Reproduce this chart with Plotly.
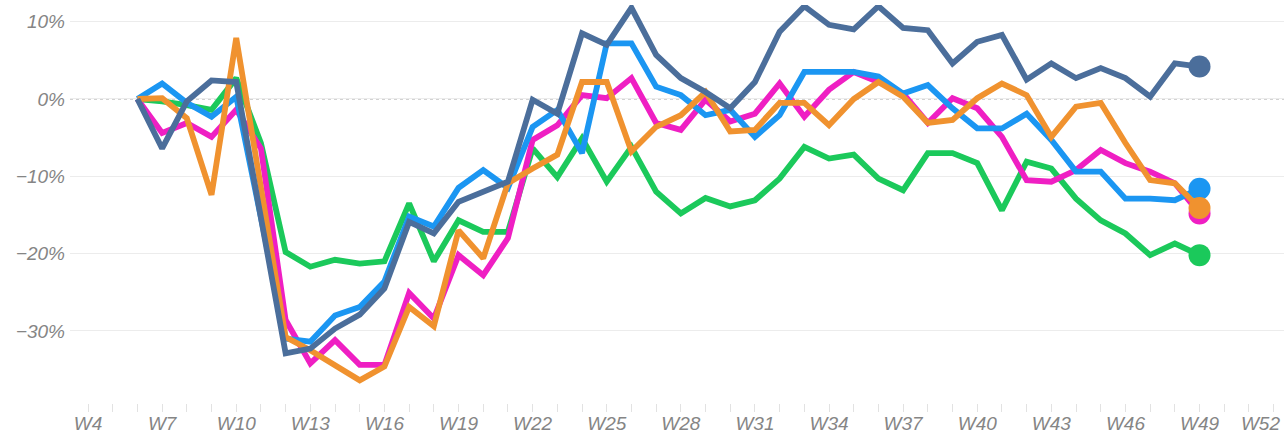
import plotly.graph_objects as go

weeks = list(range(6, 50))

slate = [0, -6.4, -0.3, 2.4, 2.2, -15.3, -32.9, -32.3, -29.7, -27.9, -24.5, -15.9, -17.4, -13.3,
         -12.0, -10.7, -0.1, -1.9, 8.5, 7.0, 11.8, 5.7, 2.7, 0.9, -1.2, 2.2, 8.7, 12.0, 9.6, 9.0,
         12.0, 9.2, 8.9, 4.6, 7.4, 8.3, 2.5, 4.6, 2.7, 4.0, 2.7, 0.3, 4.6, 4.2]
blue = [0, 2.0, -0.5, -2.3, 0.3, -15.0, -31.0, -31.4, -28.0, -26.9, -23.6, -15.2, -16.5, -11.5,
        -9.2, -11.5, -3.6, -1.4, -7.0, 7.2, 7.2, 1.6, 0.5, -2.1, -1.4, -4.9, -2.1, 3.5, 3.5, 3.5,
        2.9, 0.7, 1.8, -1.2, -3.8, -3.8, -1.9, -5.3, -9.4, -9.4, -12.9, -12.9, -13.1, -11.6]
magenta = [0, -4.4, -3.1, -4.9, -1.4, -6.4, -28.6, -34.2, -31.2, -34.4, -34.4, -25.1, -28.4, -20.2,
           -22.8, -18.0, -5.3, -3.4, 0.5, 0.1, 2.7, -3.1, -4.0, -0.1, -2.9, -1.9, 2.0, -2.3, 1.2, 3.5,
           2.2, 0.7, -3.1, 0.1, -1.2, -4.9, -10.5, -10.7, -9.2, -6.6, -8.3, -9.4, -10.9, -14.8]
orange = [0, 0.1, -2.5, -12.4, 7.9, -11.5, -30.8, -32.5, -34.4, -36.4, -34.6, -26.9, -29.4, -17.0,
          -20.6, -10.9, -9.0, -7.2, 2.2, 2.2, -6.8, -3.6, -2.1, 0.9, -4.2, -4.0, -0.5, -0.5, -3.4, 0.0,
          2.2, 0.3, -3.1, -2.7, 0.1, 2.0, 0.5, -4.9, -1.0, -0.5, -5.7, -10.5, -10.9, -14.1]
green = [0, -0.3, -0.8, -1.4, 2.7, -5.7, -19.8, -21.7, -20.8, -21.3, -21.0, -13.5, -21.0, -15.7,
         -17.2, -17.2, -6.4, -10.1, -5.1, -10.7, -6.2, -12.0, -14.8, -12.8, -13.9, -13.1, -10.3, -6.2, -7.7, -7.2,
         -10.3, -11.8, -7.0, -7.0, -8.3, -14.4, -8.1, -9.0, -12.9, -15.7, -17.4, -20.2, -18.7, -20.2]

x_tick_weeks = list(range(4, 53, 3))
x_tick_labels = [f"W{w}" for w in x_tick_weeks]
x_tick_labels[-1] = "W52\u00a0\u00a0\u00a0\u00a0\u00a0"
y_tick_vals = [10, 0, -10, -20, -30]
y_tick_labels = ["10%", "0%", "\u221210%", "\u221220%", "\u221230%"]

series = [
    ("green", green, "#1bc95b"),
    ("magenta", magenta, "#ef1fc3"),
    ("blue", blue, "#1b96f2"),
    ("orange", orange, "#f0922f"),
    ("slate", slate, "#4b6e9b"),
]

fig = go.Figure()
for name, vals, col in series:
    fig.add_trace(go.Scatter(x=weeks, y=vals, mode="lines", name=name,
                             line=dict(color=col, width=5.8), showlegend=False, hoverinfo="skip"))
for name, vals, col in series:
    fig.add_trace(go.Scatter(x=[weeks[-1]], y=[vals[-1]], mode="markers", name=name,
                             marker=dict(color=col, size=22), showlegend=False, hoverinfo="skip"))

fig.add_hline(y=0, line=dict(color="#c4c4c4", width=1.3, dash="dot"), layer="below")

tick_font = dict(family="Liberation Sans", size=19, color="#858585", style="italic")
fig.update_layout(
    width=1284, height=436,
    margin=dict(l=70, r=0, t=5, b=33, autoexpand=False),
    paper_bgcolor="white", plot_bgcolor="white",
    xaxis=dict(range=[3.27, 52.42], tickvals=x_tick_weeks, ticktext=x_tick_labels,
               showgrid=False, zeroline=False, showline=False, automargin=False,
               ticks="outside", ticklen=8, tickcolor="#e2e2e2", tickwidth=1,
               minor=dict(dtick=1, tick0=4, ticks="outside", ticklen=8, tickcolor="#e2e2e2", showgrid=False),
               tickfont=tick_font, ticklabeloverflow="allow", ticklabelstandoff=-5),
    yaxis=dict(range=[-39.33, 12.16], tickvals=y_tick_vals, ticktext=y_tick_labels,
               showgrid=True, gridcolor="#ececec", gridwidth=1, zeroline=False, showline=False,
               automargin=False, tickfont=tick_font, ticklabelstandoff=4),
)
fig.write_html("out.html", config={"displayModeBar": False},
               post_script="document.body.style.margin='0';document.body.style.padding='0';")
